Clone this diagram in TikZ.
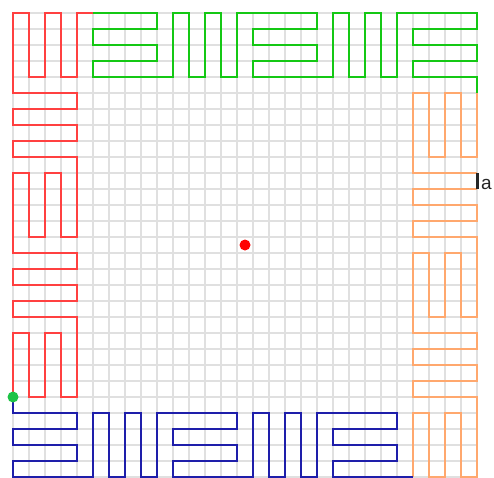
\documentclass[tikz,border=0pt]{standalone}
\usepackage{fontspec}
\setmainfont{Liberation Sans}
\definecolor{cred}{RGB}{255,64,64}
\definecolor{cgreen}{RGB}{20,200,20}
\definecolor{corange}{RGB}{255,168,110}
\definecolor{cblue}{RGB}{30,30,170}
\definecolor{cgrid}{RGB}{224,224,224}
\definecolor{cdot}{RGB}{30,195,70}
\tikzset{
  gridline/.style={draw=cgrid, line width=1.6pt},
  curve/.style={line width=2pt, line join=miter},
  dotmark/.style={circle, inner sep=0pt, minimum size=11pt},
}
\begin{document}
\begin{tikzpicture}[x=1pt,y=-1pt]
\clip (0,0) rectangle (494,477);
\fill[white] (0,0) rectangle (494,477);
\begin{scope}[xshift=13pt,yshift=-13pt,x=16pt,y=-16pt]
\foreach \k in {0,...,29}{
  \draw[gridline] (\k,0) -- (\k,29);
  \draw[gridline] (0,\k) -- (29,\k);
}
% red
\draw[curve, cred] (0,24) -- (0,20) -- (1,20) -- (1,24) -- (2,24) -- (2,20) -- (3,20) -- (3,24) -- (4,24) -- (4,19) -- (0,19) -- (0,18) -- (4,18) -- (4,17) -- (0,17) -- (0,16) -- (4,16) -- (4,15) -- (0,15) -- (0,10) -- (1,10) -- (1,14) -- (2,14) -- (2,10) -- (3,10) -- (3,14) -- (4,14) -- (4,9) -- (0,9) -- (0,8) -- (4,8) -- (4,7) -- (0,7) -- (0,6) -- (4,6) -- (4,5) -- (0,5) -- (0,0) -- (1,0) -- (1,4) -- (2,4) -- (2,0) -- (3,0) -- (3,4) -- (4,4) -- (4,0) -- (5,0);
% green
\draw[curve, cgreen] (5,0) -- (9,0) -- (9,1) -- (5,1) -- (5,2) -- (9,2) -- (9,3) -- (5,3) -- (5,4) -- (10,4) -- (10,0) -- (11,0) -- (11,4) -- (12,4) -- (12,0) -- (13,0) -- (13,4) -- (14,4) -- (14,0) -- (19,0) -- (19,1) -- (15,1) -- (15,2) -- (19,2) -- (19,3) -- (15,3) -- (15,4) -- (20,4) -- (20,0) -- (21,0) -- (21,4) -- (22,4) -- (22,0) -- (23,0) -- (23,4) -- (24,4) -- (24,0) -- (29,0) -- (29,1) -- (25,1) -- (25,2) -- (29,2) -- (29,3) -- (25,3) -- (25,4) -- (29,4) -- (29,5);
% orange
\draw[curve, corange] (29,5) -- (29,9) -- (28,9) -- (28,5) -- (27,5) -- (27,9) -- (26,9) -- (26,5) -- (25,5) -- (25,10) -- (29,10);
\draw[curve, corange] (29,11) -- (25,11) -- (25,12) -- (29,12) -- (29,13) -- (25,13) -- (25,14) -- (29,14) -- (29,19) -- (28,19) -- (28,15) -- (27,15) -- (27,19) -- (26,19) -- (26,15) -- (25,15) -- (25,20) -- (29,20) -- (29,21) -- (25,21) -- (25,22) -- (29,22) -- (29,23) -- (25,23) -- (25,24) -- (29,24) -- (29,29) -- (28,29) -- (28,25) -- (27,25) -- (27,29) -- (26,29) -- (26,25) -- (25,25) -- (25,29);
% blue
\draw[curve, cblue] (25,29) -- (20,29) -- (20,28) -- (24,28) -- (24,27) -- (20,27) -- (20,26) -- (24,26) -- (24,25) -- (19,25) -- (19,29) -- (18,29) -- (18,25) -- (17,25) -- (17,29) -- (16,29) -- (16,25) -- (15,25) -- (15,29) -- (10,29) -- (10,28) -- (14,28) -- (14,27) -- (10,27) -- (10,26) -- (14,26) -- (14,25) -- (9,25) -- (9,29) -- (8,29) -- (8,25) -- (7,25) -- (7,29) -- (6,29) -- (6,25) -- (5,25) -- (5,29) -- (0,29) -- (0,28) -- (4,28) -- (4,27) -- (0,27) -- (0,26) -- (4,26) -- (4,25) -- (0,25) -- (0,24);
% marker segment
\draw[black!85, line width=3pt] (29,10) -- (29,11);
% dots
\node[dotmark, fill=red] (centre) at (14.5,14.5) {};
\node[dotmark, fill=cdot] (start) at (0,24) {};
\end{scope}
\node[anchor=base west, inner sep=0pt, font=\fontsize{19}{23}\selectfont, text=black!85] (lbl) at (481,189) {a};
\end{tikzpicture}
\end{document}
